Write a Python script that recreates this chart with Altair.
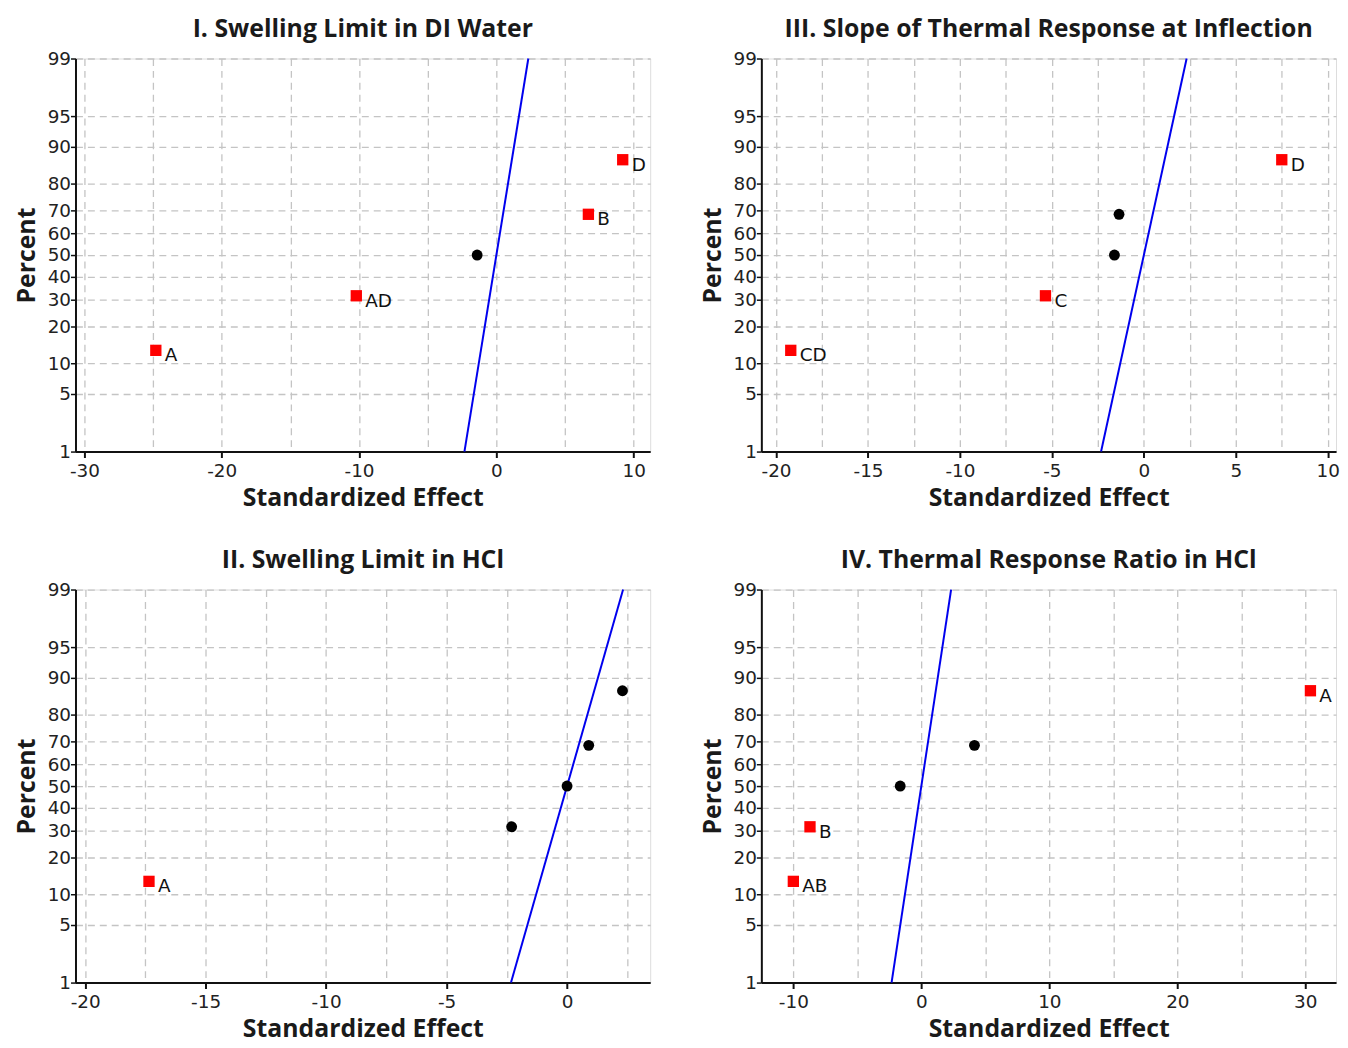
import altair as alt
import pandas as pd
from statistics import NormalDist

ND = NormalDist()

# plotting positions (percent) of the 5 ranked effects
rank_pct = [12.96, 31.48, 50.0, 68.52, 87.04]

# Panel I
p1_effects = [-24.8, -10.2, -1.4, 6.7, 9.2]
p1_terms = ["A", "AD", "", "B", "D"]
p1_sig = [True, True, False, True, True]

# Panel II
p2_effects = [-17.35, -2.3, 0.0, 0.9, 2.3]
p2_terms = ["A", "", "", "", ""]
p2_sig = [True, False, False, False, False]

# Panel III
p3_effects = [-19.2, -5.35, -1.6, -1.35, 7.5]
p3_terms = ["CD", "C", "", "", "D"]
p3_sig = [True, True, False, False, True]

# Panel IV
p4_effects = [-10.0, -8.7, -1.65, 4.15, 30.4]
p4_terms = ["AB", "B", "", "", "A"]
p4_sig = [True, True, False, False, True]

# reference line (percent 1 .. 99)
line_pct = [1, 99]
line_effects = [-2.326, 2.326]

pct_ticks = [1, 5, 10, 20, 30, 40, 50, 60, 70, 80, 90, 95, 99]

FONT = "DejaVu Sans"
TFONT = "Open Sans"


def z(p):
    return ND.inv_cdf(p / 100.0)


y_vals = [z(p) for p in pct_ticks]
y_dom = [z(1), z(99)]


def panel(title, effects, terms, sig, xdom, label_step, xticks):
    df = pd.DataFrame({
        "effect": effects,
        "pct": rank_pct,
        "z": [z(p) for p in rank_pct],
        "term": terms,
        "sig": sig,
    })
    ldf = pd.DataFrame({"effect": line_effects, "z": [z(p) for p in line_pct]})

    xscale = alt.Scale(domain=xdom, nice=False, zero=False)
    yscale = alt.Scale(domain=y_dom, nice=False, zero=False)

    test = f"abs(datum.value % {label_step}) < 0.001"
    xaxis = alt.Axis(
        title="Standardized Effect",
        values=xticks,
        labelExpr=f"{test} ? ('' + datum.value) : ''",
        tickOpacity={"condition": {"test": test, "value": 1}, "value": 0},
        grid=True,
        gridColor="#c4c4c4",
        gridDash=[7, 5],
        gridWidth=1.3,
        labelFont=FONT,
        labelFontSize=18.5,
        labelColor="#222222",
        labelFlush=False,
        labelPadding=4,
        tickSize=6,
        tickWidth=2,
        tickColor="#111111",
        domainColor="#111111",
        domainWidth=2,
        titleFont=TFONT,
        titleFontSize=25,
        titleFontWeight="bold",
        titleColor="#1a1a1a",
        titlePadding=6,
    )
    yaxis = alt.Axis(
        title="Percent",
        values=y_vals,
        labelExpr="'' + round(cumulativeNormal(datum.value) * 100)",
        grid=True,
        gridColor="#c4c4c4",
        gridDash=[7, 5],
        gridWidth=1.3,
        labelFont=FONT,
        labelFontSize=18.5,
        labelColor="#222222",
        labelFlush=False,
        labelOverlap=False,
        labelPadding=0,
        tickSize=5,
        tickWidth=1.5,
        tickColor="#111111",
        domainColor="#111111",
        domainWidth=2,
        titleFont=TFONT,
        titleFontSize=25,
        titleFontWeight="bold",
        titleColor="#1a1a1a",
        titlePadding=8,
    )

    base = alt.Chart(df)
    x = alt.X("effect:Q", scale=xscale, axis=xaxis)
    y = alt.Y("z:Q", scale=yscale, axis=yaxis)

    line = alt.Chart(ldf).mark_line(color="#0000ee", strokeWidth=2).encode(
        x=alt.X("effect:Q", scale=xscale, axis=xaxis),
        y=alt.Y("z:Q", scale=yscale, axis=yaxis),
    )
    squares = base.transform_filter("datum.sig").mark_square(
        color="#ff0000", size=130, opacity=1
    ).encode(x=x, y=y)
    circles = base.transform_filter("!datum.sig").mark_circle(
        color="#000000", size=120, opacity=1
    ).encode(x=x, y=y)
    labels = base.transform_filter("datum.sig").mark_text(
        align="left", baseline="middle", dx=9, dy=5, font=FONT, fontSize=18.5, color="#111111"
    ).encode(x=x, y=y, text="term:N")

    return alt.layer(line, squares, circles, labels).properties(
        width=579,
        height=396,
        title=alt.TitleParams(
            title, font=TFONT, fontSize=25, fontWeight="bold", color="#1a1a1a",
            anchor="middle", offset=8,
        ),
    )


def rng(a, b, s):
    out = []
    v = a
    while v <= b + 1e-9:
        out.append(round(v, 3))
        v += s
    return out


c1 = panel("I. Swelling Limit in DI Water", p1_effects, p1_terms, p1_sig,
           [-30.65, 11.2], 10, rng(-30, 10, 5))
c3 = panel("III. Slope of Thermal Response at Inflection", p3_effects, p3_terms, p3_sig,
           [-20.8, 10.45], 5, rng(-20, 10, 2.5))
c2 = panel("II. Swelling Limit in HCl", p2_effects, p2_terms, p2_sig,
           [-20.4, 3.45], 5, rng(-20, 2.5, 2.5))
c4 = panel("IV. Thermal Response Ratio in HCl", p4_effects, p4_terms, p4_sig,
           [-12.5, 32.4], 10, rng(-10, 30, 5))

chart = alt.vconcat(
    alt.hconcat(c1, c3, spacing=48),
    alt.hconcat(c2, c4, spacing=48),
    spacing=36,
).properties(padding={"left": 5, "top": 4, "right": 0, "bottom": 0}).configure_view(
    stroke="#111111", strokeWidth=2
).configure(background="white")

chart.save("out.html", embed_options={"renderer": "svg", "actions": False})
